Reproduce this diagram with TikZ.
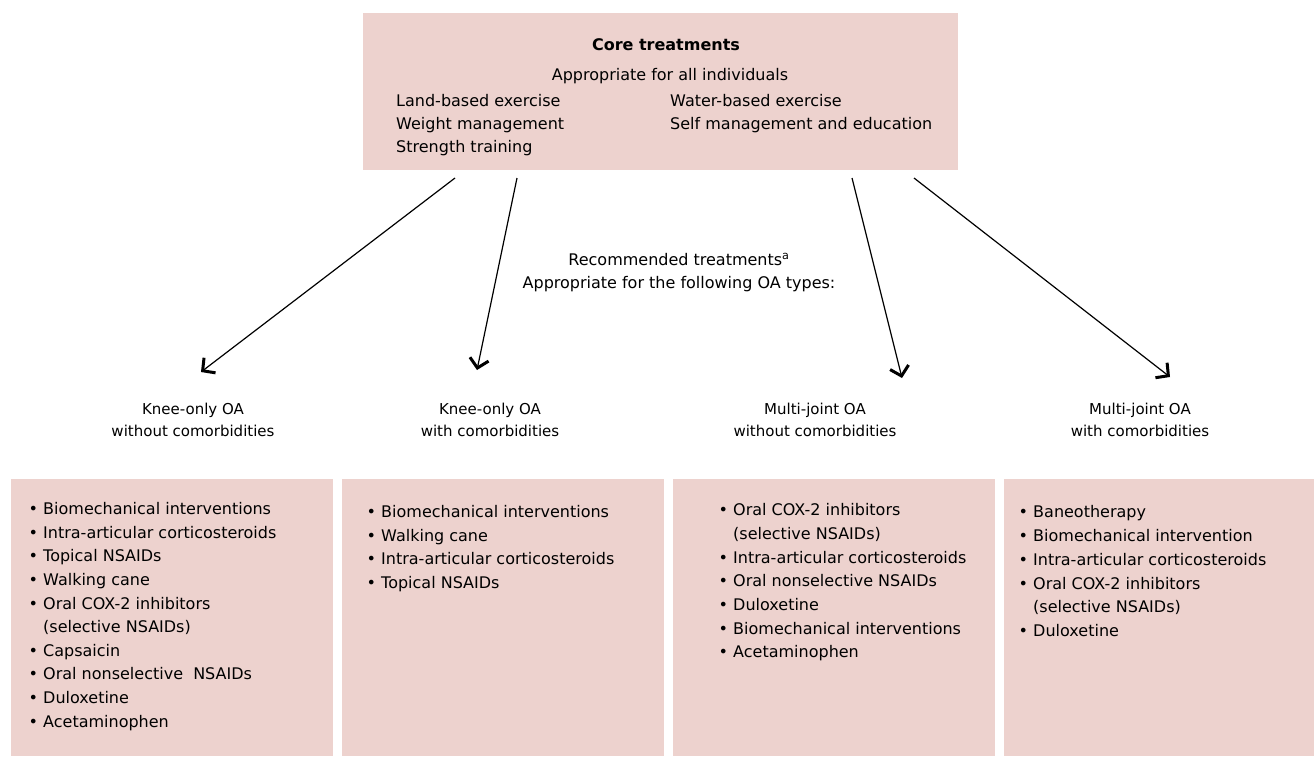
\documentclass[tikz,border=0pt]{standalone}
\usepackage{fontspec}
\setmainfont{DejaVu Sans}
\usetikzlibrary{arrows.meta}
\definecolor{boxpink}{RGB}{237,210,206}
\begin{document}
\begin{tikzpicture}[x=1pt,y=-1pt,
  panel/.style={fill=boxpink, draw=none, inner sep=0pt, anchor=north west},
  txt/.style={inner sep=0pt, font=\fontsize{16}{23.5}\selectfont},
  ctxt/.style={txt, anchor=mid},
  ltxt/.style={txt, anchor=mid west},
  cat/.style={inner sep=0pt, anchor=mid, font=\fontsize{15}{22}\selectfont},
  arr/.style={line width=1.2pt, -{Straight Barb[length=9pt,width=19pt,line width=3pt]}}]
\useasboundingbox (0,0) rectangle (1314,756);
% top box
\node[panel, minimum width=595, minimum height=157] (core) at (363,13) {};
\node[ctxt, font=\fontsize{16}{23.5}\selectfont\bfseries] (coreT) at (666,48) {Core treatments};
\node[ctxt] (coreS) at (670,78) {Appropriate for all individuals};
\node[ltxt] (c1) at (396,104) {Land-based exercise};
\node[ltxt] (c2) at (396,127) {Weight management};
\node[ltxt] (c3) at (396,150) {Strength training};
\node[ltxt] (c4) at (670,104) {Water-based exercise};
\node[ltxt] (c5) at (670,127) {Self management and education};
% middle text
\node[ctxt] (rec1) at (679,263) {Recommended treatments\textsuperscript{a}};
\node[ctxt] (rec2) at (679,286) {Appropriate for the following OA types:};
% category labels
\node[cat] (k1a) at (193,412) {Knee-only OA};
\node[cat] (k1b) at (193,434) {without comorbidities};
\node[cat] (k2a) at (490,412) {Knee-only OA};
\node[cat] (k2b) at (490,434) {with comorbidities};
\node[cat] (m1a) at (815,412) {Multi-joint OA};
\node[cat] (m1b) at (815,434) {without comorbidities};
\node[cat] (m2a) at (1140,412) {Multi-joint OA};
\node[cat] (m2b) at (1140,434) {with comorbidities};
% arrows
\coordinate (s1) at (455,178); \coordinate (e1) at (201,372);
\coordinate (s2) at (517,178); \coordinate (e2) at (477,370);
\coordinate (s3) at (852,178); \coordinate (e3) at (902,378);
\coordinate (s4) at (914,178); \coordinate (e4) at (1170,377);
\draw[arr] (s1) -- (e1);
\draw[arr] (s2) -- (e2);
\draw[arr] (s3) -- (e3);
\draw[arr] (s4) -- (e4);
% bottom boxes
\node[panel, minimum width=322, minimum height=277] (bx1) at (11,479) {};
\node[panel, minimum width=322, minimum height=277] (bx2) at (342,479) {};
\node[panel, minimum width=322, minimum height=277] (bx3) at (673,479) {};
\node[panel, minimum width=310, minimum height=277] (bx4) at (1004,479) {};
\def\bl{\textbullet\ }
\def\ind{\hphantom{\textbullet\ }}
\foreach \t [count=\i from 0] in {{\bl Biomechanical interventions},{\bl Intra-articular corticosteroids},{\bl Topical NSAIDs},{\bl Walking cane},{\bl Oral COX-2 inhibitors},{\ind(selective NSAIDs)},{\bl Capsaicin},{\bl Oral nonselective\ \ NSAIDs},{\bl Duloxetine},{\bl Acetaminophen}}
  \node[ltxt] (a\i) at (28.5,512+23.6*\i) {\t};
\foreach \t [count=\i from 0] in {{\bl Biomechanical interventions},{\bl Walking cane},{\bl Intra-articular corticosteroids},{\bl Topical NSAIDs}}
  \node[ltxt] (b\i) at (366.5,515+23.6*\i) {\t};
\foreach \t [count=\i from 0] in {{\bl Oral COX-2 inhibitors},{\ind(selective NSAIDs)},{\bl Intra-articular corticosteroids},{\bl Oral nonselective NSAIDs},{\bl Duloxetine},{\bl Biomechanical interventions},{\bl Acetaminophen}}
  \node[ltxt] (c\i) at (718.5,513+23.7*\i) {\t};
\foreach \t [count=\i from 0] in {{\bl Baneotherapy},{\bl Biomechanical intervention},{\bl Intra-articular corticosteroids},{\bl Oral COX-2 inhibitors},{\ind(selective NSAIDs)},{\bl Duloxetine}}
  \node[ltxt] (d\i) at (1018.5,515+23.8*\i) {\t};
\end{tikzpicture}
\end{document}
